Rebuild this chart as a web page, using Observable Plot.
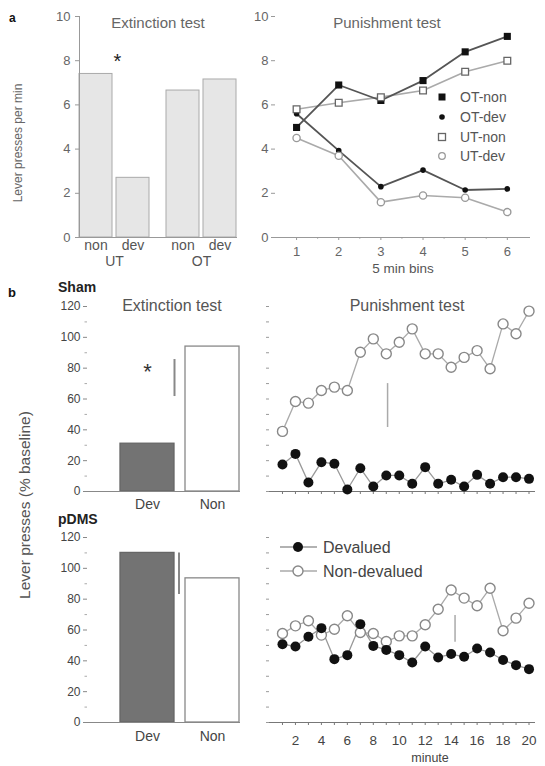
<!DOCTYPE html>
<html><head><meta charset="utf-8">
<script src="https://cdn.jsdelivr.net/npm/d3@7"></script>
<script src="https://cdn.jsdelivr.net/npm/@observablehq/plot@0.6"></script>
<style>
body{margin:0;background:#fff;}
#wrap{position:relative;width:545px;height:766px;overflow:hidden;font-family:"Liberation Sans",Arial,sans-serif;}
#wrap > svg{position:absolute;}
</style></head><body><div id="wrap"></div>
<script>
// ---------- Data ----------
// Panel a, extinction test
const extGroup = ["UT", "UT", "OT", "OT"];
const extCond = ["non", "dev", "non", "dev"];
const extRate = [7.4, 2.7, 6.65, 7.15];
const extStar = 8.15;

// Panel a, punishment test (5 min bins)
const bins = [1, 2, 3, 4, 5, 6];
const otNon = [4.98, 6.9, 6.2, 7.1, 8.4, 9.1];
const otDev = [5.6, 3.93, 2.3, 3.05, 2.15, 2.2];
const utNon = [5.8, 6.1, 6.35, 6.65, 7.5, 8.0];
const utDev = [4.5, 3.7, 1.6, 1.9, 1.8, 1.15];

// Panel b, extinction test bars
const barLabels = ["Dev", "Non"];
const shamBars = [31, 94];
const pdmsBars = [110, 93.5];
const shamSed = [61.6, 85.6];
const pdmsSed = [83, 110];
const shamStar = 81;

// Panel b, punishment test by minute
const minutes = [1,2,3,4,5,6,7,8,9,10,11,12,13,14,15,16,17,18,19,20];
const shamDevalued = [17.5,24.4,5.8,19,18,1.3,15.1,3.2,10.4,10.4,5,15.8,5,7.6,3.2,10.8,5,9.3,9.3,8.2];
const shamNonDevalued = [39,58.4,57.3,65.5,67.7,65.5,90.3,99,89.3,96.8,105.5,89.3,89.3,80.6,87,91.4,79.6,108.7,102.3,117];
const pdmsDevalued = [50.8,49.3,55.6,61.2,41.1,43.7,63.8,49.7,47.1,43.7,38.9,49.3,42.2,44.4,42.6,48,45.4,40.5,37.2,34.6];
const pdmsNonDevalued = [57.7,62.7,66,56.7,60.5,69.2,58.4,57.7,52.5,56.2,56.2,63.4,73.5,85.9,80.7,75.7,87.1,59.5,67.7,77.4];
const shamPunishSed = {minute: 9.1, lo: 41.5, hi: 70};
const pdmsPunishSed = {minute: 14.3, lo: 52, hi: 69.4};

// ---------- Helpers ----------
const wrap = document.getElementById("wrap");
function place(el, left, top) {
  el.style.left = left + "px";
  el.style.top = top + "px";
  wrap.appendChild(el);
}
const FONT = "'Liberation Sans', Arial, sans-serif";

// ---------- Panel a left: extinction bars ----------
const extData = extGroup.map((g, i) => ({group: g, cond: extCond[i], value: extRate[i]}));
const pa1 = Plot.plot({
  width: 255, height: 280, marginLeft: 62, marginRight: 1, marginTop: 16, marginBottom: 43,
  style: {fontFamily: FONT, fontSize: "13px", color: "#666", background: "transparent"},
  fx: {domain: ["UT", "OT"], paddingInner: 0.19, paddingOuter: 0.193, label: null},
  x: {domain: ["non", "dev"], paddingInner: 0.11, paddingOuter: 0, label: null},
  y: {domain: [0, 10], label: null},
  marks: [
    Plot.barY(extData, {fx: "group", x: "cond", y: "value", fill: "#e6e6e6", stroke: "#aaa", strokeWidth: 1}),
    Plot.frame({anchor: "bottom", facet: "super", stroke: "#999"}),
    Plot.frame({anchor: "left", facet: "super", stroke: "#999"}),
    Plot.axisY({ticks: [0, 2, 4, 6, 8, 10], tickSize: 4, tickPadding: 5, stroke: "#999", label: null}),
    Plot.axisX({tickSize: 0, tickPadding: 3, fontSize: 14, fill: "#555", label: null}),
    Plot.axisFx({anchor: "bottom", tickSize: 0, tickPadding: 19, fontSize: 14, fill: "#555", label: null}),
    Plot.text([{group: "UT", v: extStar}], {fx: "group", y: "v", text: () => "*", fontSize: 20, fill: "#222", dx: 3, dy: 4})
  ]
});
place(pa1, 0, 0);

// ---------- Panel a right: punishment lines ----------
function seriesRows(name, vals) { return bins.map((b, i) => ({bin: b, series: name, v: vals[i]})); }
const rOtNon = seriesRows("OT-non", otNon), rOtDev = seriesRows("OT-dev", otDev);
const rUtNon = seriesRows("UT-non", utNon), rUtDev = seriesRows("UT-dev", utDev);
const pa2 = Plot.plot({
  width: 295, height: 280, marginLeft: 25, marginRight: 15, marginTop: 16, marginBottom: 43,
  style: {fontFamily: FONT, fontSize: "13px", color: "#666", background: "transparent"},
  x: {domain: [0.5, 6.55], label: null},
  y: {domain: [0, 10], label: null},
  marks: [
    Plot.axisY({ticks: [0, 2, 4, 6, 8, 10], tickSize: 4, tickPadding: 3, line: true, stroke: "#999", label: null}),
    Plot.axisX({ticks: bins, tickSize: 3, tickPadding: 6, tickFormat: "d", stroke: "#999", label: null}),
    Plot.axisX({ticks: [1.5, 2.5, 3.5, 4.5, 5.5], tickSize: 2, tickFormat: () => "", stroke: "#bbb", label: null}),
    Plot.ruleY([0], {stroke: "#999"}),
    Plot.line(rUtNon, {x: "bin", y: "v", stroke: "#aaa", strokeWidth: 1.6}),
    Plot.line(rUtDev, {x: "bin", y: "v", stroke: "#aaa", strokeWidth: 1.6}),
    Plot.line(rOtNon, {x: "bin", y: "v", stroke: "#555", strokeWidth: 1.8}),
    Plot.line(rOtDev, {x: "bin", y: "v", stroke: "#555", strokeWidth: 1.8}),
    Plot.dot(rOtNon, {x: "bin", y: "v", symbol: "square", r: 4, fill: "#111"}),
    Plot.dot(rOtDev, {x: "bin", y: "v", r: 2.8, fill: "#111"}),
    Plot.dot(rUtNon, {x: "bin", y: "v", symbol: "square", r: 3.8, fill: "#fff", stroke: "#666", strokeWidth: 1.3}),
    Plot.dot(rUtDev, {x: "bin", y: "v", r: 3.6, fill: "#fff", stroke: "#999", strokeWidth: 1.3})
  ]
});
place(pa2, 250, 0);

// ---------- Panel b bars ----------
function barPanel(values, sed, star, height, marginTop, marginBottom, tickPad) {
  const rows = barLabels.map((l, i) => ({label: l, v: values[i]}));
  const marks = [
    Plot.barY(rows, {x: "label", y: "v", fill: d => d.label === "Dev" ? "#737373" : "#fff",
      stroke: d => d.label === "Dev" ? "#666" : "#888", strokeWidth: 1.3}),
    Plot.ruleY([0], {stroke: "#888"}),
    Plot.axisY({ticks: d3.range(0, 121, 20), tickSize: 4, tickPadding: 3, line: true, stroke: "#888",
      fontSize: 12, fill: "#444", label: null}),
    Plot.axisY({ticks: d3.range(10, 121, 20), tickSize: 2.5, tickFormat: () => "", stroke: "#aaa", label: null}),
    Plot.axisX({tickSize: 0, tickPadding: tickPad, fontSize: 14, fill: "#444", label: null}),
    Plot.ruleX([{label: "Dev", lo: sed[0], hi: sed[1]}], {x: "label", y1: "lo", y2: "hi",
      stroke: "#888", strokeWidth: 2, dx: star == null ? 31.5 : 27})
  ];
  if (star != null) marks.push(Plot.text([{label: "Dev", v: star}], {x: "label", y: "v", text: () => "*", fontSize: 22, fill: "#333", dy: 5}));
  return Plot.plot({
    width: 241, height, marginLeft: 87, marginRight: 1, marginTop, marginBottom,
    style: {fontFamily: FONT, fontSize: "12px", color: "#666", background: "transparent"},
    x: {domain: barLabels, paddingInner: 0.17, paddingOuter: 0.2615, align: 0.97, label: null},
    y: {domain: [0, 120], label: null},
    marks
  });
}
place(barPanel(shamBars, shamSed, shamStar, 235, 26, 24, 8), 0, 280);
place(barPanel(pdmsBars, pdmsSed, null, 246, 27, 34, 9), 0, 510);

// ---------- Panel b punishment lines ----------
function linePanel(dev, non, sed, height, marginTop, marginBottom, labels) {
  const rd = minutes.map((m, i) => ({m, v: dev[i]}));
  const rn = minutes.map((m, i) => ({m, v: non[i]}));
  const marks = [
    Plot.axisY({ticks: d3.range(0, 121, 10), tickSize: 3, tickFormat: () => "", line: true, stroke: "#999", label: null}),
    Plot.ruleY([0], {stroke: "#777"}),
    Plot.axisX({ticks: minutes, tickSize: 3, tickFormat: () => "", stroke: "#777", label: null}),
    Plot.ruleX([sed], {x: "minute", y1: "lo", y2: "hi", stroke: "#aaa", strokeWidth: 1.5}),
    Plot.line(rn, {x: "m", y: "v", stroke: "#aaa", strokeWidth: 1.3}),
    Plot.line(rd, {x: "m", y: "v", stroke: "#999", strokeWidth: 1.3}),
    Plot.dot(rn, {x: "m", y: "v", r: 5, fill: "#fff", stroke: "#888", strokeWidth: 1.4}),
    Plot.dot(rd, {x: "m", y: "v", r: 5, fill: "#111"})
  ];
  if (labels) marks.push(Plot.axisX({ticks: minutes.filter(m => m % 2 === 0), tickSize: 0, tickPadding: 13,
    fontSize: 13.5, fill: "#444", label: null}));
  return Plot.plot({
    width: 305, height, marginLeft: 29, marginRight: 10, marginTop, marginBottom,
    style: {fontFamily: FONT, fontSize: "12px", color: "#666", background: "transparent"},
    x: {domain: [0, 20.5], label: null},
    y: {domain: [0, 120], label: null},
    marks
  });
}
place(linePanel(shamDevalued, shamNonDevalued, shamPunishSed, 235, 26, 24, false), 240, 280);
place(linePanel(pdmsDevalued, pdmsNonDevalued, pdmsPunishSed, 246, 27, 34, true), 240, 510);

// ---------- Overlay: titles, panel letters, axis titles, legends ----------
const ov = d3.select(wrap).append("svg").attr("width", 545).attr("height", 766)
  .style("left", "0px").style("top", "0px").style("pointer-events", "none")
  .attr("font-family", FONT);
function txt(x, y, s, size, fill, opts = {}) {
  const t = ov.append("text").attr("x", x).attr("y", y).text(s).attr("font-size", size).attr("fill", fill)
    .attr("text-anchor", opts.anchor || "start");
  if (opts.bold) t.attr("font-weight", "bold");
  if (opts.rotate) t.attr("transform", `rotate(-90 ${x} ${y})`);
  if (opts.mid) t.attr("dominant-baseline", "central");
  return t;
}
// panel a
txt(9, 22, "a", 12, "#111", {bold: true});
txt(22, 143, "Lever presses per min", 12, "#666", {anchor: "middle", rotate: true});
txt(158, 28, "Extinction test", 15, "#666", {anchor: "middle"});
txt(387, 28, "Punishment test", 15, "#666", {anchor: "middle"});
txt(403, 273, "5 min bins", 13.5, "#555", {anchor: "middle"});
const legA = [
  {name: "OT-non", y: 97, sym: "sq", fill: "#111", stroke: "none"},
  {name: "OT-dev", y: 117, sym: "ci", fill: "#111", stroke: "none", r: 2.8},
  {name: "UT-non", y: 137, sym: "sq", fill: "#fff", stroke: "#666"},
  {name: "UT-dev", y: 156, sym: "ci", fill: "#fff", stroke: "#999", r: 3.3}
];
legA.forEach(d => {
  if (d.sym === "sq") ov.append("rect").attr("x", 438.5).attr("y", d.y - 3.5).attr("width", 7).attr("height", 7)
    .attr("fill", d.fill).attr("stroke", d.stroke).attr("stroke-width", 1.3);
  else ov.append("circle").attr("cx", 442).attr("cy", d.y).attr("r", d.r).attr("fill", d.fill)
    .attr("stroke", d.stroke).attr("stroke-width", 1.3);
  txt(460, d.y, d.name, 14, "#555", {mid: true});
});
// panel b
txt(8, 297, "b", 13, "#111", {bold: true});
txt(58, 292, "Sham", 14, "#222", {bold: true});
txt(58, 524, "pDMS", 14, "#222", {bold: true});
txt(172, 311, "Extinction test", 16, "#555", {anchor: "middle"});
txt(407, 311, "Punishment test", 16, "#555", {anchor: "middle"});
txt(30, 505, "Lever presses (% baseline)", 15.5, "#555", {anchor: "middle", rotate: true});
txt(430, 762, "minute", 12.5, "#444", {anchor: "middle"});
const legB = [
  {name: "Devalued", y: 547, fill: "#111", stroke: "none", line: "#999"},
  {name: "Non-devalued", y: 571, fill: "#fff", stroke: "#888", line: "#aaa"}
];
legB.forEach(d => {
  ov.append("line").attr("x1", 280).attr("x2", 317).attr("y1", d.y).attr("y2", d.y).attr("stroke", d.line).attr("stroke-width", 1.3);
  ov.append("circle").attr("cx", 298).attr("cy", d.y).attr("r", 5).attr("fill", d.fill).attr("stroke", d.stroke).attr("stroke-width", 1.4);
  txt(323, d.y, d.name, 16, "#444", {mid: true});
});
</script></body></html>
